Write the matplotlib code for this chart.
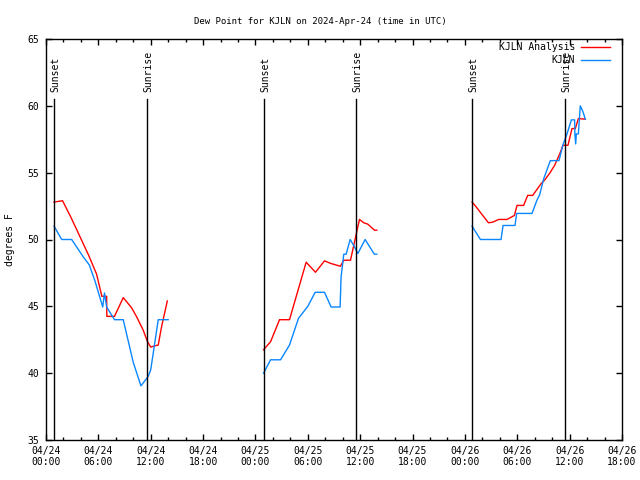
import matplotlib
matplotlib.use("Agg")
import matplotlib.pyplot as plt
import matplotlib.transforms as mtransforms

# hours since 2024-04-24 00:00 UTC, dew point in F
red_t1 = [0.92, 1.9, 2.9, 3.9, 4.9, 5.8, 6.4, 6.95, 6.97, 7.85, 8.85, 9.8, 10.4,
          11.15, 11.6, 12.0, 12.48, 12.86, 13.25, 13.9]
red_f1 = [52.8, 52.9, 51.6, 50.2, 48.8, 47.4, 45.75, 45.75, 44.25, 44.25, 45.65, 44.9, 44.2,
          43.2, 42.4, 41.95, 42.05, 42.1, 43.5, 45.4]
blue_t1 = [0.92, 1.8, 2.94, 4.27, 4.96, 5.61, 6.5, 6.7, 6.95, 7.85, 8.85, 10.0, 10.88,
           11.7, 12.0, 12.86, 14.0]
blue_f1 = [51.0, 50.0, 50.0, 48.7, 48.1, 46.9, 44.95, 46.0, 44.95, 44.0, 44.0, 40.8, 39.05,
           39.75, 40.25, 44.0, 44.0]

red_t2 = [24.93, 25.73, 26.76, 27.9, 29.81, 30.88, 31.91, 32.67, 33.74, 34.12, 34.89,
          35.92, 36.41, 36.87, 37.63, 37.9]
red_f2 = [41.75, 42.35, 44.0, 44.0, 48.3, 47.55, 48.4, 48.2, 48.0, 48.45, 48.45,
          51.5, 51.25, 51.15, 50.7, 50.7]
blue_t2 = [24.93, 25.73, 26.87, 27.9, 28.93, 30.0, 30.84, 31.91, 32.67, 33.7, 33.81, 34.12,
           34.39, 34.85, 35.35, 35.73, 36.57, 37.33, 37.63, 37.9]
blue_f2 = [40.0, 41.0, 41.0, 42.1, 44.1, 45.0, 46.05, 46.05, 44.95, 44.95, 47.2, 48.9,
           48.9, 50.0, 49.45, 48.95, 50.0, 49.2, 48.9, 48.9]

red_t3 = [48.82, 49.28, 50.04, 50.7, 51.19, 51.87, 52.82, 53.67, 53.97, 54.73, 55.19, 55.77,
          56.26, 56.76, 57.14, 57.71, 58.28, 58.86, 59.24, 59.81, 60.27, 60.65, 61.0, 61.8]
red_f3 = [52.8, 52.45, 51.8, 51.25, 51.3, 51.5, 51.5, 51.8, 52.55, 52.55, 53.3, 53.3,
          53.75, 54.2, 54.45, 54.95, 55.55, 56.4, 57.05, 57.05, 58.3, 58.3, 59.05, 59.0]
blue_t3 = [48.82, 49.78, 52.14, 52.37, 53.74, 53.93, 55.69, 56.26, 56.57, 57.03, 57.79, 58.78,
           59.24, 59.7, 60.2, 60.57, 60.6, 60.69, 60.77, 61.0, 61.22, 61.53, 61.8]
blue_f3 = [51.0, 50.0, 50.0, 51.05, 51.05, 51.95, 51.95, 52.95, 53.35, 54.55, 55.9, 55.9,
           57.1, 57.9, 58.95, 58.95, 57.9, 57.15, 57.9, 57.9, 60.0, 59.55, 59.0]

sunset_t = [0.95, 24.97, 48.8]
sunrise_t = [11.58, 35.5, 59.5]

tick_hours = [0, 6, 12, 18, 24, 30, 36, 42, 48, 54, 60, 66]
tick_labels = ["04/24\n00:00", "04/24\n06:00", "04/24\n12:00", "04/24\n18:00",
               "04/25\n00:00", "04/25\n06:00", "04/25\n12:00", "04/25\n18:00",
               "04/26\n00:00", "04/26\n06:00", "04/26\n12:00", "04/26\n18:00"]
ytick_vals = [35, 40, 45, 50, 55, 60, 65]

RED = "#ff0000"
BLUE = "#0a86ff"
FONT = "DejaVu Sans Mono"
FS = 7

plt.rcParams['font.family'] = FONT
plt.rcParams['font.size'] = FS

fig = plt.figure(figsize=(6.4, 4.8), dpi=100)
ax = fig.add_axes([46 / 640, 40 / 480, 576 / 640, 401 / 480])

first = True
for t, f in [(red_t1, red_f1), (red_t2, red_f2), (red_t3, red_f3)]:
    ax.plot(t, f, color=RED, lw=1.0, label="KJLN Analysis" if first else None)
    first = False
first = True
for t, f in [(blue_t1, blue_f1), (blue_t2, blue_f2), (blue_t3, blue_f3)]:
    ax.plot(t, f, color=BLUE, lw=1.0, label="KJLN" if first else None)
    first = False

# sunset / sunrise markers with rotated labels above the line
trans = mtransforms.blended_transform_factory(ax.transData, ax.transAxes)
shift = mtransforms.ScaledTranslation(1.5 / 100, 0, fig.dpi_scale_trans)
for names, times in [("Sunset", sunset_t), ("Sunrise", sunrise_t)]:
    for x in times:
        ax.axvline(x, ymin=0, ymax=0.85, color="black", lw=1.0)
        ax.text(x, 0.868, names, transform=trans + shift, rotation=90,
                ha="center", va="bottom", fontsize=FS)

ax.set_xlim(0, 66)
ax.set_ylim(35, 65)
ax.set_xticks(tick_hours)
ax.set_xticklabels(tick_labels)
ax.set_xticks(range(0, 67, 2), minor=True)
ax.set_yticks(ytick_vals)
ax.tick_params(which="both", direction="in", top=True, right=True, width=1)
ax.tick_params(which="major", length=4.5, pad=4)
ax.tick_params(which="minor", length=2.5)
ax.tick_params(axis="y", pad=5)
for s in ax.spines.values():
    s.set_linewidth(1.0)

ax.legend(loc="upper right", bbox_to_anchor=(1 - 12 / 576, 1 - 3 / 401),
          frameon=False, markerfirst=False, handlelength=3.0, handletextpad=0.6,
          borderaxespad=0, borderpad=0, labelspacing=0.35, fontsize=FS)

fig.text(0.5, 1 - 21 / 480, "Dew Point for KJLN on 2024-Apr-24 (time in UTC)",
         ha="center", va="center", fontsize=6.5)
fig.text(10 / 640, 1 - 240 / 480, "degrees F", rotation=90,
         ha="center", va="center", fontsize=FS)

fig.savefig("out.png", dpi=100)
